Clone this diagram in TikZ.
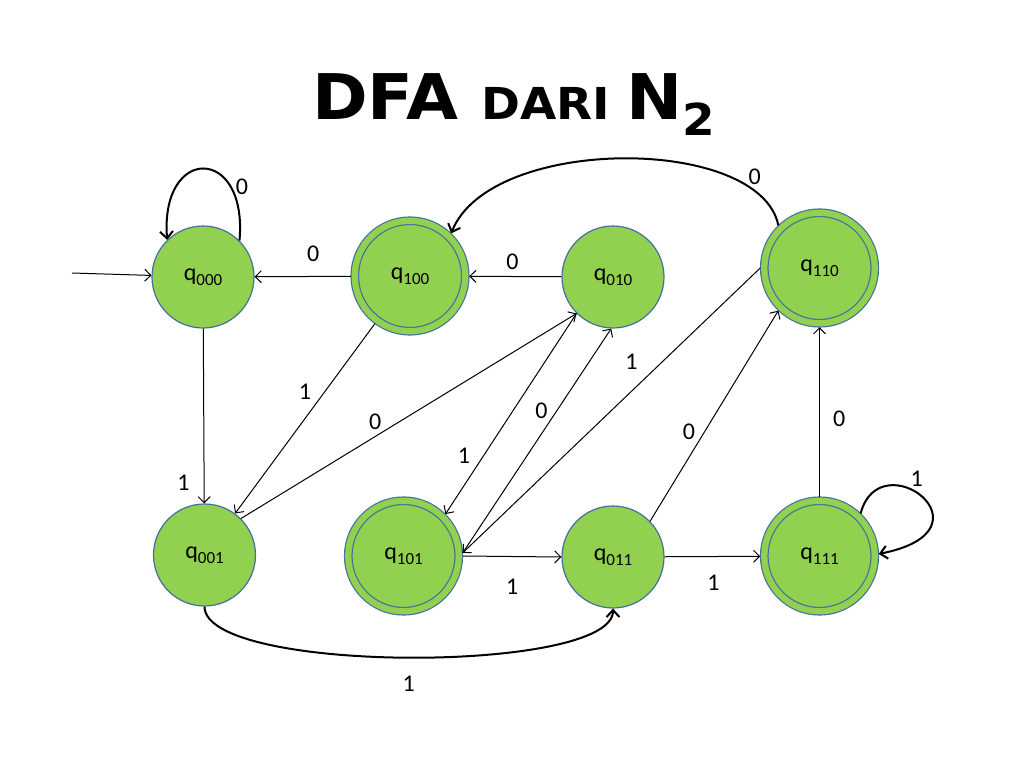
\documentclass[tikz,border=0pt]{standalone}
\usepackage{fontspec}
\setmainfont{Carlito}
\newfontfamily\titlefont{DejaVu Sans}
\usetikzlibrary{arrows.meta}
\definecolor{stfill}{HTML}{92D050}
\definecolor{stline}{HTML}{41719C}
\newcommand{\qn}[1]{q\raisebox{-5pt}{\fontsize{17}{17}\selectfont #1}}
\newcommand{\titletext}{\resizebox{403pt}{\height}{\titlefont\bfseries
  \fontsize{63}{63}\selectfont DFA \fontsize{44}{44}\selectfont DARI
  \fontsize{63}{63}\selectfont N\raisebox{-16pt}{\fontsize{44}{44}\selectfont 2}}}

\begin{document}
\begin{tikzpicture}[x=1pt,y=-1pt,
    state/.style={circle,fill=stfill,draw=stline,line width=1.2pt,minimum size=102pt,
      inner sep=0pt,outer sep=.6pt,font=\fontsize{24}{24}\selectfont},
    accept/.style={state,minimum size=110.5pt,double=stfill,double distance=6.3pt,outer sep=4pt},
    trans/.style={-{Straight Barb[length=6pt,width=12pt]},line width=1pt},
    curvy/.style={-{Straight Barb[length=7pt,width=13pt]},line width=2pt},
    lbl/.style={inner sep=1pt,font=\fontsize{24}{24}\selectfont}]
  \fill[white] (0,0) rectangle (1024,768);

  \node[anchor=base west,inner sep=0pt] (title) at (312,119) {\titletext};

  % states
  \node[state] (q000) at (203,277) {\qn{000}};
  \node[accept] (q100) at (410,276) {\qn{100}};
  \node[state] (q010) at (613,277) {\qn{010}};
  \node[accept] (q110) at (819.5,268) {\qn{110}};
  \node[state] (q001) at (204.5,555) {\qn{001}};
  \node[accept] (q101) at (403.5,556) {\qn{101}};
  \node[state] (q011) at (613,557) {\qn{011}};
  \node[accept] (q111) at (819.5,556) {\qn{111}};
  \coordinate (start) at (72,273);

  % transitions
  \draw[trans] (start) -- (q000);
  \draw[curvy] (q000.45) .. controls (248,145) and (160,145) .. (q000.134) node[lbl,pos=.25,right=3pt] {0};
  \draw[trans] (q100) -- node[lbl,pos=.39,above=13pt] {0} (q000);
  \draw[trans] (q010) -- node[lbl,pos=.53,above=5pt] {0} (q100);
  \draw[curvy] (q110.134) .. controls (760,135) and (490,135) .. (q100.46) node[lbl,pos=.15,above=4pt] {0};
  \draw[trans] (q000) -- node[lbl,pos=.88,left=13pt] {1} (q001);
  \draw[trans] (q100) -- node[lbl,pos=.36,left=12pt] {1} (q001);
  \draw[trans] (q001.45) -- node[lbl,pos=.4,above=5pt] {0} (q010.225);
  \draw[trans] (q010.225) -- node[lbl,pos=.71,left=12pt] {1} (q101.45);
  \draw[trans] (q101.3) -- node[lbl,pos=.635,left=8pt] {0} (q010.268);
  \draw[trans] (q110.west) -- node[lbl,pos=.33,left=23pt] {1} (q101.3);
  \draw[trans] (q101.east) -- node[lbl,pos=.5,below=21pt] {1} (q011.west);
  \draw[trans] (q011.44) -- node[lbl,pos=.425,left=8pt] {0} (q110.226);
  \draw[trans] (q011) -- node[lbl,pos=.51,below=17pt] {1} (q111);
  \draw[trans] (q111) -- node[lbl,pos=.46,right=12pt] {0} (q110);
  \draw[curvy] (q111.46) .. controls (880,440) and (1000,530) .. (q111.2) node[lbl,pos=.45,above=4pt] {1};
  \draw[curvy] (q001.south) .. controls (204.5,674) and (613,674) .. (q011.south) node[lbl,pos=.5,below=17pt] {1};
\end{tikzpicture}
\end{document}
